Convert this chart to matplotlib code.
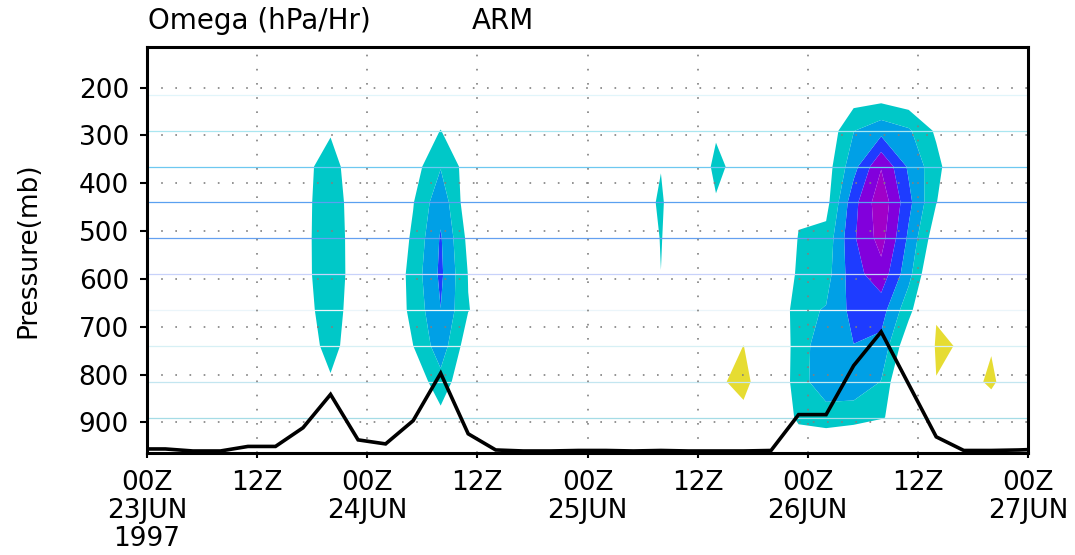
import numpy as np
import matplotlib
matplotlib.use("Agg")
import matplotlib.pyplot as plt

# ---------------- data ----------------
# hours since 00Z 23JUN1997 (3-hourly analysis times)
hours = [-1, 2, 5, 8, 11, 14, 17, 20, 23, 26, 29, 32, 35, 38, 41, 44, 47,
         50, 53, 56, 59, 62, 65, 68, 71, 74, 77, 80, 83, 86, 89, 92, 95, 98]
# pressure levels (mb)
plevs = [965, 890, 815, 740, 665, 590, 515, 440, 365, 290, 215, 140]

# omega (hPa/hr) at each level, one value per time
w965 = [-0.3, -0.3, -0.3, -0.3, -0.3, -0.3, -0.4, -0.6, -0.4, -0.3, -0.4, -0.6, -0.4, -0.3, -0.3, -0.3, -0.3,
        -0.3, -0.3, -0.3, -0.2, 0.2, 0.5, -0.2, -0.5, -0.5, -0.5, -0.6, -0.4, 0.3, 0.2, 0.3, -0.2, -0.2]
w890 = [-0.3, -0.3, -0.3, -0.3, -0.3, -0.3, -0.5, -1.5, -0.5, -0.4, -0.5, -2.0, -0.5, -0.3, -0.3, -0.3, -0.3,
        -0.3, -0.3, -0.3, -0.3, 0.5, 2.03, 0.0, -3.57, -4.04, -3.63, -3.1, -2.39, 1.0, 0.5, -0.7, 0.0, 0.0]
w815 = [-0.3, -0.3, -0.3, -0.3, -0.3, -0.3, -1.0, -2.68, -1.0, -0.3, -0.57, -4.99, -0.02, -0.3, -0.3, -0.3, -0.3,
        -0.3, -0.3, -0.3, -0.3, 2.36, 4.0, 0.15, -4.42, -8.5, -8.6, -5.89, 2.5, 2.96, 0.56, 4.0, -1.5, 0.0]
w740 = [-0.3, -0.3, -0.3, -0.3, -0.3, -0.3, -1.4, -4.0, -1.1, -0.3, -2.98, -7.7, -1.23, -0.3, -0.3, -0.3, -0.3,
        -0.3, -0.3, -0.3, -0.3, 1.5, 3.02, 1.68, -4.91, -7.5, -8.94, -8.15, -0.5, 3.2, 2.88, 2.6, 0.0, 0.0]
w665 = [-0.3, -0.3, -0.3, -0.3, -0.3, -0.3, -1.5, -5.0, -0.7, -0.47, -3.77, -8.97, -3.1, -1.56, -0.3, -0.3, -0.3,
        -0.3, -0.3, -0.3, -0.3, 0.5, 1.5, 2.0, -5.29, -6.2, -10.0, -10.28, -4.0, 2.86, 1.0, 0.5, 0.0, 0.0]
w590 = [-0.3, -0.3, -0.3, -0.3, -0.3, -0.3, -1.8, -5.5, -0.85, 0.33, -4.23, -9.6, -2.9, -0.5, -0.3, -0.3, -0.3,
        -0.3, 0.0, -2.98, 0.0, -0.3, -0.5, -1.0, -3.3, -4.8, -10.8, -13.86, -7.0, 1.5, 0.5, 0.0, 0.0, 0.0]
w515 = [-0.3, -0.3, -0.3, -0.3, -0.3, -0.3, -1.85, -5.5, -0.76, 0.25, -3.52, -9.3, -2.2, -0.3, -0.3, -0.3, -0.3,
        -0.3, 0.0, -3.15, 0.0, -0.3, -0.5, -0.5, -3.1, -4.0, -11.6, -16.2, -8.4, -0.9, 0.0, 0.0, 0.0, 0.0]
w440 = [-0.3, -0.3, -0.3, -0.3, -0.3, -0.3, -1.9, -5.2, -0.7, -0.3, -2.85, -8.1, -1.06, -0.3, -0.3, -0.3, -0.3,
        -0.3, -0.44, -3.6, 2.0, -2.66, -0.5, -0.5, -2.67, -1.91, -10.96, -17.1, -9.86, -3.1, 0.5, 0.0, 0.0, 0.0]
w365 = [-0.3, -0.3, -0.3, -0.3, -0.3, -0.3, -2.0, -4.5, -0.45, -0.3, -1.59, -5.83, -1.57, -0.3, -0.3, -0.3, -0.3,
        -0.3, -0.3, -2.86, 1.26, -4.0, -1.14, -0.3, -0.5, -1.5, -7.9, -14.8, -8.5, -4.04, 0.69, 0.0, 0.0, 0.0]
w290 = [-0.3, -0.3, -0.3, -0.3, -0.3, -0.3, -1.0, -2.65, -0.5, -0.3, -1.5, -3.05, -1.0, -0.3, -0.3, -0.3, -0.3,
        -0.3, -0.3, -0.3, -0.3, -2.5, -0.5, -0.3, -0.5, -0.63, -5.9, -7.93, -6.43, -2.48, -1.0, -0.3, -0.3, -0.3]
w215 = [-0.3, -0.3, -0.3, -0.3, -0.3, -0.3, -0.3, -1.5, -0.3, -0.3, -0.3, -1.5, -0.3, -0.3, -0.3, -0.3, -0.3,
        -0.3, -0.3, -0.3, -0.3, -0.3, -0.3, -0.3, -0.3, -0.3, -1.28, -1.48, -0.52, -0.3, -0.3, -0.3, -0.3, -0.3]
w140 = [-0.2] * 34

# surface precipitation (black curve), same 3-hourly times
precip = [0.02, 0.02, 0.0, 0.0, 0.045, 0.045, 0.23, 0.56, 0.11, 0.07, 0.30, 0.77, 0.17, 0.01, 0.0, 0.0, 0.005,
          0.005, 0.0, 0.005, 0.0, 0.0, 0.0, 0.005, 0.36, 0.36, 0.845, 1.18, 0.66, 0.14, 0.005, 0.005, 0.01, 0.02]

shade_levels = [-100, -15, -12, -9, -6, -3, 3, 100]
xtick_hours = [0, 12, 24, 36, 48, 60, 72, 84, 96]
xtick_labels = ["00Z\n23JUN\n1997", "12Z", "00Z\n24JUN", "12Z", "00Z\n25JUN",
                "12Z", "00Z\n26JUN", "12Z", "00Z\n27JUN"]
ytick_vals = [200, 300, 400, 500, 600, 700, 800, 900]

# ---------------- styling ----------------
shade_colors = ["#a000c8", "#8200dc", "#1e3cff", "#00a0e6", "#00c8c8", "none", "#e6dc32"]
seam_colors = {890: "#a5dce6", 815: "#c3e6f0", 740: "#d7f0f5", 665: "#ebf5fa", 590: "#c8d2fa",
               515: "#64a0f0", 440: "#5aa0f0", 365: "#6ec8f0", 290: "#aae6f0", 215: "#e1f5fa"}

plt.rcParams["font.family"] = ["DejaVu Sans"]
W, H = 1075, 555
fig = plt.figure(figsize=(W / 100, H / 100), dpi=100)
x0, x1, y0, y1 = 147, 1028, 47, 453
ax = fig.add_axes([x0 / W, 1 - y1 / H, (x1 - x0) / W, (y1 - y0) / H])

omega = np.array([w965, w890, w815, w740, w665, w590, w515, w440, w365, w290, w215, w140])
ax.contourf(hours, plevs, omega, levels=shade_levels, colors=shade_colors, zorder=1, antialiased=True)

for p, c in seam_colors.items():
    ax.axhline(p, color=c, lw=0.9, zorder=2)

dot = (0, (1, 7.5))
for yv in ytick_vals:
    ax.axhline(yv, color="#808080", lw=1.2, ls=dot, zorder=3)
for xv in xtick_hours[1:-1]:
    ax.axvline(xv, color="#808080", lw=1.2, ls=dot, zorder=3)

ax.set_xlim(0, 96)
ax.set_ylim(964, 115)
ax.set_xticks(xtick_hours)
ax.set_xticklabels(xtick_labels, fontsize=19, linespacing=1.1)
ax.set_yticks(ytick_vals)
ax.set_yticklabels([str(v) for v in ytick_vals], fontsize=19)
ax.tick_params(axis="y", length=5, width=1.5, pad=8)
ax.tick_params(axis="x", length=3.5, width=1.5, pad=9)
for s in ax.spines.values():
    s.set_linewidth(2.2)
    s.set_zorder(6)
ax.set_ylabel("Pressure(mb)", fontsize=19, labelpad=27)

ax2 = ax.twinx()
ax2.plot(hours, precip, color="black", lw=2.6, zorder=5, solid_joinstyle="miter")
ax2.set_ylim(-0.02, 4.0)
ax2.set_xlim(0, 96)
ax2.set_yticks([])
for s in ax2.spines.values():
    s.set_visible(False)

fig.text(148 / W, 1 - 21 / H, "Omega (hPa/Hr)", fontsize=20, va="center", ha="left")
fig.text(472 / W, 1 - 21 / H, "ARM", fontsize=20, va="center", ha="left")

fig.savefig("out.png", dpi=100)
